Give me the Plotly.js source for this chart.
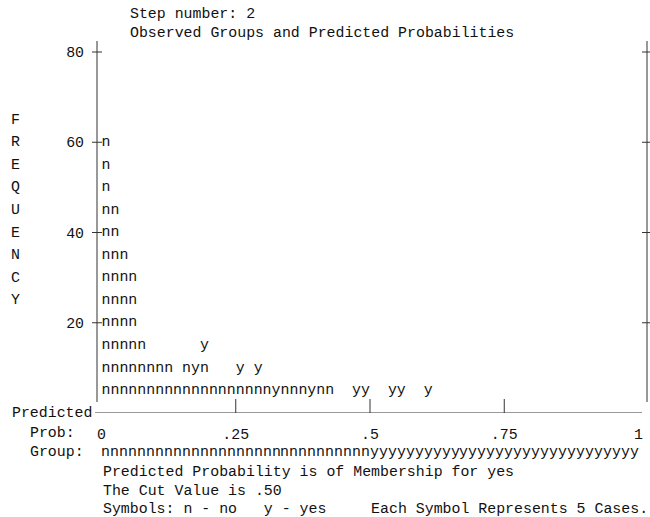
<!DOCTYPE html>
<html><head><meta charset="utf-8">
<script src="https://cdn.plot.ly/plotly-3.0.1.min.js"></script>
<style>html,body{margin:0;padding:0;background:#fff}#chart{width:650px;height:517px}</style>
</head><body><div id="chart"></div>
<script>
// ---------- data ----------
const stepNumber = 2;
const frequencyLevels = [60, 55, 50, 45, 40, 35, 30, 25, 20, 15, 10, 5];
const rowSymbols = [
  "n",
  "n",
  "n",
  "nn",
  "nn",
  "nnn",
  "nnnn",
  "nnnn",
  "nnnn",
  "nnnnn      y",
  "nnnnnnnn nyn   y y",
  "nnnnnnnnnn" + "nnnnnnnnn" + "ynnnynn  yy  yy  y"
];
const groupSymbols = "nnnnnnnnnn" + "nnnnnnnnnn" + "nnnnnnnnnn" + "yyyyyyyyyy" + "yyyyyyyyyy" + "yyyyyyyyyy";
const nColumns = 60;
const probTickVals = [0, 0.25, 0.5, 0.75, 1];
const probTickText = ["0", ".25", ".5", ".75", "1"];
const probMarkVals = [0.25, 0.5, 0.75];
const freqTickVals = [20, 40, 60, 80];
const yLabelLetters = ["F", "R", "E", "Q", "U", "E", "N", "C", "Y"];
const yLabelLevels = [65, 60, 55, 50, 45, 40, 35, 30, 25];
const cutValue = ".50";
const casesPerSymbol = 5;

// ---------- styling / geometry ----------
const FONT = "'Liberation Mono', 'Courier New', monospace";
const FS = 14.9;
const TXT = "#111";
const LINE = "#333";
const W = 650, H = 517;
const L = 97, R = 647, T = 41, B = 413;
const P0 = 101.5, PPU = 537;          // pixel of prob 0, pixels per unit prob
const YMAX = 82.44;
const FRAME_BOTTOM = 2.44;
const px2paperX = px => (px - L) / (R - L);
const px2paperY = py => (B - py) / (B - T);
const nb = s => s.replace(/ /g, "\u00a0");

// ---------- build symbol points ----------
const xs = [], ys = [], ts = [];
rowSymbols.forEach((row, i) => {
  for (let j = 0; j < row.length; j++) {
    const c = row[j];
    if (c === " ") continue;
    xs.push((j + 0.5) / nColumns);
    ys.push(frequencyLevels[i]);
    ts.push(c);
  }
});

const traces = [
  {type: "scatter", mode: "text", x: xs, y: ys, text: ts, textposition: "middle center",
   textfont: {family: FONT, size: FS, color: TXT}, hoverinfo: "skip", showlegend: false, cliponaxis: false}
];

// ---------- shapes (frame and crossing tick marks) ----------
const ln = {color: LINE, width: 1};
const shapes = [
  {type: "line", xref: "paper", yref: "y", x0: 0, x1: 0, y0: FRAME_BOTTOM, y1: YMAX, line: ln},
  {type: "line", xref: "paper", yref: "y", x0: 1, x1: 1, y0: FRAME_BOTTOM, y1: YMAX, line: ln},
  {type: "line", xref: "paper", yref: "y", x0: px2paperX(95), x1: px2paperX(642), y0: 0, y1: 0, line: ln}
];
freqTickVals.forEach(v => {
  [0, 1].forEach(a => shapes.push({type: "line", xref: "paper", yref: "y", xsizemode: "pixel", xanchor: a,
    x0: -5, x1: 5, y0: v, y1: v, line: ln}));
});
probMarkVals.forEach(v => shapes.push({type: "line", xref: "x", yref: "y", ysizemode: "pixel", yanchor: 0,
  x0: v, x1: v, y0: -14, y1: 14, line: ln}));

// ---------- annotations ----------
const ann = [];
const addText = (text, px, py, anchor) => ann.push({text: nb(text), xref: "paper", yref: "paper",
  x: px2paperX(px), y: px2paperY(py), xanchor: anchor || "left", yanchor: "middle", showarrow: false,
  font: {family: FONT, size: FS, color: TXT}, borderpad: 0});
addText("Step number: " + stepNumber, 129, 14);
addText("Observed Groups and Predicted Probabilities", 129, 33);
addText("Predicted", 11, 413);
addText("Prob:", 29, 433);
addText("Group:", 29, 452);
addText("Predicted Probability is of Membership for yes", 102, 472);
addText("The Cut Value is " + cutValue, 102, 491);
addText("Symbols: n - no   y - yes     Each Symbol Represents " + casesPerSymbol + " Cases.", 102, 509);
yLabelLetters.forEach((c, i) => ann.push({text: c, xref: "paper", yref: "y", x: px2paperX(15), y: yLabelLevels[i],
  xanchor: "center", yanchor: "middle", showarrow: false, font: {family: FONT, size: FS, color: TXT}, borderpad: 0}));
for (let j = 0; j < groupSymbols.length; j++) {
  ann.push({text: groupSymbols[j], xref: "x", yref: "paper", x: (j + 0.5) / nColumns, y: px2paperY(452),
    xanchor: "center", yanchor: "middle", showarrow: false, font: {family: FONT, size: FS, color: TXT}, borderpad: 0});
}

const layout = {
  width: W, height: H, autosize: false,
  margin: {l: L, r: W - R, t: T, b: H - B, pad: 0},
  paper_bgcolor: "#fff", plot_bgcolor: "#fff",
  hovermode: false, showlegend: false,
  xaxis: {range: [(L - P0) / PPU, (R - P0) / PPU], showgrid: false, zeroline: false, showline: false,
    tickvals: probTickVals, ticktext: probTickText, ticks: "", ticklabelstandoff: 10,
    tickfont: {family: FONT, size: FS, color: TXT}, fixedrange: true},
  yaxis: {range: [0, YMAX], showgrid: false, zeroline: false, showline: false,
    tickvals: freqTickVals, ticks: "", ticklabelstandoff: 12,
    tickfont: {family: FONT, size: FS, color: TXT}, fixedrange: true},
  shapes: shapes,
  annotations: ann
};

Plotly.newPlot("chart", traces, layout, {displayModeBar: false, staticPlot: true});
</script>
</body></html>
